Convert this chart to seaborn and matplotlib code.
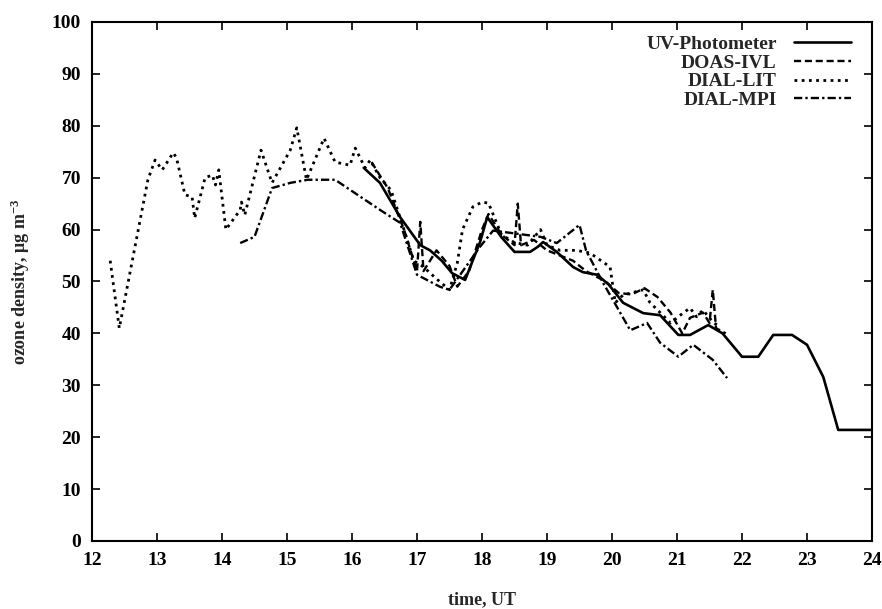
import matplotlib
matplotlib.use("Agg")
import matplotlib.pyplot as plt
import seaborn as sns
import pandas as pd

# ---- data ----
uv_t = [16.18, 16.43, 16.74, 17.05, 17.2, 17.38, 17.54, 17.74, 17.97, 18.08, 18.3, 18.5,
        18.74, 18.86, 18.94, 19.15, 19.4, 19.55, 19.77, 19.95, 20.17, 20.48, 20.74, 21.02,
        21.2, 21.48, 21.7, 22.0, 22.25, 22.48, 22.77, 23.0, 23.25, 23.48, 24.0]
uv_o3 = [71.9, 69.0, 62.4, 57.0, 56.0, 54.0, 51.6, 50.3, 57.6, 62.4, 58.5, 55.7,
         55.7, 56.7, 57.6, 55.7, 52.8, 51.8, 51.3, 49.4, 45.9, 43.9, 43.5, 39.7,
         39.7, 41.6, 40.0, 35.5, 35.5, 39.7, 39.7, 37.8, 31.6, 21.4, 21.4]

doas_t = [16.3, 16.55, 16.8, 17.0, 17.05, 17.1, 17.3, 17.5, 17.62, 17.8, 18.0, 18.1, 18.3,
          18.5, 18.55, 18.6, 18.8, 19.0, 19.2, 19.4, 19.6, 19.9, 20.1, 20.3, 20.5, 20.7,
          20.9, 21.08, 21.2, 21.4, 21.5, 21.55, 21.6, 21.75]
doas_o3 = [73.0, 68.0, 60.0, 52.0, 61.5, 52.0, 56.0, 53.0, 49.0, 52.0, 60.0, 63.0, 59.0,
           57.0, 65.0, 57.0, 58.0, 56.0, 55.0, 54.0, 52.0, 50.0, 47.8, 47.5, 48.7, 47.0,
           44.0, 40.0, 43.0, 44.0, 42.0, 48.4, 41.0, 40.0]

lit_t = [12.28, 12.42, 12.86, 12.97, 13.08, 13.25, 13.3, 13.43, 13.54, 13.58, 13.74, 13.85,
         13.9, 13.95, 14.06, 14.28, 14.3, 14.35, 14.6, 14.77, 15.05, 15.15, 15.3, 15.57,
         15.74, 15.97, 16.05, 16.2, 16.28, 16.43, 16.6, 16.8, 16.95, 17.1, 17.3, 17.5,
         17.62, 17.7, 17.86, 18.0, 18.1, 18.3, 18.5, 18.7, 18.9, 19.0, 19.2, 19.45, 19.66,
         19.97, 20.05, 20.17, 20.48, 20.58, 20.9, 21.05, 21.2, 21.3, 21.4, 21.55, 21.66]
lit_o3 = [54.0, 41.0, 69.6, 73.4, 71.5, 74.8, 73.8, 66.7, 66.3, 62.2, 70.0, 70.5,
          68.6, 71.5, 60.0, 63.8, 65.3, 62.8, 75.3, 69.0, 75.3, 79.6, 69.6, 77.6,
          73.0, 72.4, 75.7, 71.9, 73.4, 70.0, 67.6, 60.0, 54.0, 52.8, 50.5, 48.4,
          53.6, 60.0, 64.4, 65.3, 65.1, 59.0, 57.5, 57.0, 60.0, 57.0, 56.0, 56.0, 55.5,
          52.8, 45.9, 47.4, 48.4, 46.0, 42.0, 43.5, 44.9, 43.2, 44.5, 42.2, 41.2]

mpi_t = [14.28, 14.5, 14.77, 15.05, 15.32, 15.74, 16.43, 16.74, 17.0, 17.35, 17.5, 17.97,
         18.17, 18.48, 18.9, 19.15, 19.5, 19.6, 19.85, 20.08, 20.28, 20.54, 20.74, 21.02,
         21.25, 21.55, 21.77]
mpi_o3 = [57.4, 58.6, 68.0, 69.0, 69.6, 69.6, 63.8, 61.3, 51.3, 49.0, 48.4, 56.7,
          59.8, 59.3, 58.6, 57.4, 60.9, 56.0, 50.0, 45.0, 40.6, 42.0, 38.2, 35.5,
          37.8, 34.9, 31.4]

series_names = ["UV-Photometer", "DOAS-IVL", "DIAL-LIT", "DIAL-MPI"]
x_ticks = list(range(12, 25))
y_ticks = list(range(0, 101, 10))

# ---- style ----
sns.set_theme(style="ticks")
plt.rcParams["font.family"] = ["Liberation Serif", "DejaVu Serif"]
plt.rcParams["font.weight"] = "bold"
plt.rcParams["mathtext.fontset"] = "custom"
plt.rcParams["mathtext.rm"] = "Liberation Serif:bold"
plt.rcParams["mathtext.bf"] = "Liberation Serif:bold"
plt.rcParams["mathtext.it"] = "Liberation Serif:bold"

fig = plt.figure(figsize=(8.82, 6.09), dpi=100)
ax = fig.add_axes([0.1043, 0.1117, 0.8844, 0.8522])

styles = {
    "UV-Photometer": dict(linestyle="-", lw=1.9),
    "DOAS-IVL": dict(linestyle=(0, (3.0, 1.6)), lw=1.7),
    "DIAL-LIT": dict(linestyle=(0, (1.0, 1.6)), lw=2.0),
    "DIAL-MPI": dict(linestyle=(0, (3.5, 1.3, 1.0, 1.3)), lw=1.7),
}
data = {
    "UV-Photometer": (uv_t, uv_o3),
    "DOAS-IVL": (doas_t, doas_o3),
    "DIAL-LIT": (lit_t, lit_o3),
    "DIAL-MPI": (mpi_t, mpi_o3),
}
for name in series_names:
    t, o = data[name]
    df = pd.DataFrame({"time": t, "ozone": o})
    sns.lineplot(data=df, x="time", y="ozone", ax=ax, color="black", label=name,
                 estimator=None, sort=False, **styles[name])

ax.set_xlim(12, 24)
ax.set_ylim(0, 100)
ax.set_xticks(x_ticks)
ax.set_yticks(y_ticks)
ax.tick_params(direction="in", length=6, width=1.2, top=True, right=True,
               labelsize=14, pad=8, colors="black")
for lab in ax.get_xticklabels() + ax.get_yticklabels():
    lab.set_fontweight("bold")
for sp in ax.spines.values():
    sp.set_linewidth(1.5)
    sp.set_color("black")

ax.set_xlabel("time, UT", fontsize=13, fontweight="bold", labelpad=16)
ax.set_ylabel("ozone density, $\\mathrm{\\mu}$g m$^{-3}$", fontsize=13, fontweight="bold",
              labelpad=14)

leg = ax.legend(loc="upper right", markerfirst=False, frameon=False, fontsize=14,
                handlelength=2.9, handletextpad=0.9, labelspacing=0.05,
                borderaxespad=0.3, bbox_to_anchor=(0.99, 1.0))
for t in leg.get_texts():
    t.set_fontweight("bold")

fig.savefig("out.png", dpi=100)
